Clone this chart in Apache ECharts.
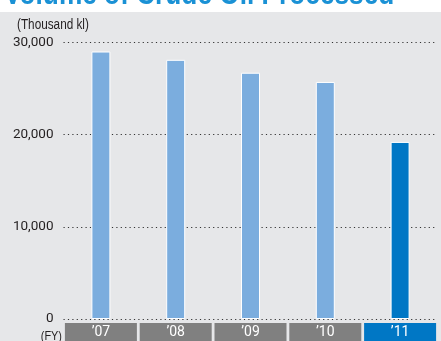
<!DOCTYPE html>
<html>
<head>
<meta charset="utf-8">
<script src="https://cdn.jsdelivr.net/npm/echarts@6/dist/echarts.min.js"></script>
<style>
html,body{margin:0;padding:0;background:#fff;}
#c{width:441px;height:341px;}
</style>
</head>
<body>
<div id="c"></div>
<script>
const titleText = "Volume of Crude Oil Processed";
const unitText = "(Thousand kl)";
const fyText = "(FY)";
const categories = ["\u201907", "\u201908", "\u201909", "\u201910", "\u201911"];
const values = [29000, 28100, 26700, 25700, 19200];
const highlightIndex = 4;
const yTicks = { min: 0, max: 30000, interval: 10000 };

const FONT = "Roboto, 'Liberation Sans', sans-serif";
const GFONT = "'Liberation Sans', Arial, sans-serif";
const chart = echarts.init(document.getElementById('c'), null, { renderer: 'canvas' });

chart.setOption({
  backgroundColor: '#e6e7e9',
  animation: false,
  grid: { left: 63.5, right: 3.5, top: 42.3, bottom: 20.3, containLabel: false },
  xAxis: {
    type: 'category',
    data: categories,
    axisLine: { show: false },
    axisTick: { show: false },
    axisLabel: {
      interval: 0,
      margin: 4,
      formatter: (v, i) => (i === highlightIndex ? '{h|' + v + '}' : '{n|' + v + '}'),
      rich: {
        n: { backgroundColor: '#808080', color: '#fff', width: 72, height: 18, lineHeight: 18, align: 'center', fontSize: 14, fontFamily: FONT },
        h: { backgroundColor: '#0077c5', color: '#fff', width: 72, height: 18, lineHeight: 18, align: 'center', fontSize: 14, fontFamily: FONT }
      }
    }
  },
  yAxis: {
    type: 'value',
    min: yTicks.min,
    max: yTicks.max,
    interval: yTicks.interval,
    axisLine: { show: false },
    axisTick: { show: false },
    axisLabel: {
      margin: 10,
      color: '#231f20',
      fontSize: 13.5,
      fontFamily: FONT,
      formatter: v => v.toLocaleString('en-US')
    },
    splitLine: {
      show: true,
      showMinLine: true,
      showMaxLine: true,
      lineStyle: { color: '#333', width: 1.2, type: [1.2, 3.2] }
    }
  },
  series: [{
    type: 'bar',
    barWidth: 19,
    data: values.map((v, i) => ({
      value: v,
      itemStyle: { color: i === highlightIndex ? '#0077c5' : '#7badde', borderColor: '#fff', borderWidth: 1 }
    }))
  }],
  graphic: [
    { type: 'rect', shape: { x: 0, y: 0, width: 441, height: 12 }, style: { fill: '#fff' } },
    { type: 'text', x: 4, y: -5, scaleX: 0.82, style: { text: titleText, fill: '#1a91d5', font: "bold 32px " + GFONT, verticalAlign: 'middle', textVerticalAlign: 'middle' } },
    { type: 'text', x: 17, y: 25.5, scaleX: 0.84, style: { text: unitText, fill: '#231f20', font: "14px " + GFONT, verticalAlign: 'middle', textVerticalAlign: 'middle' } },
    { type: 'text', x: 62, y: 336, scaleX: 0.84, style: { text: fyText, fill: '#231f20', font: "13px " + GFONT, align: 'right', textAlign: 'right', verticalAlign: 'middle', textVerticalAlign: 'middle' } }
  ]
});
</script>
</body>
</html>
